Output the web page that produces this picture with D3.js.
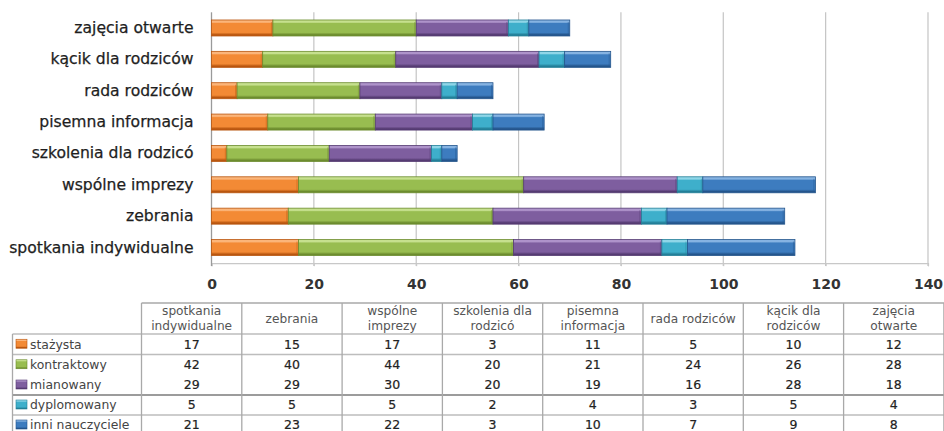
<!DOCTYPE html>
<html>
<head>
<meta charset="utf-8">
<script src="https://cdn.jsdelivr.net/npm/d3@7"></script>
<style>
  html, body { margin: 0; padding: 0; background: #fff; }
  svg { display: block; font-family: "DejaVu Sans", "Liberation Sans", sans-serif; }
</style>
</head>
<body>
<svg id="chart" width="944" height="431"></svg>
<script>
// Forms of cooperation with parents, by teacher grade
const categories = [
  "spotkania indywidualne", "zebrania", "wspólne imprezy", "szkolenia dla rodzicó",
  "pisemna informacja", "rada rodziców", "kącik dla rodziców", "zajęcia otwarte"
];
const headerLines = [
  ["spotkania", "indywidualne"], ["zebrania"], ["wspólne", "imprezy"], ["szkolenia dla", "rodzicó"],
  ["pisemna", "informacja"], ["rada rodziców"], ["kącik dla", "rodziców"], ["zajęcia", "otwarte"]
];
const seriesNames = ["stażysta", "kontraktowy", "mianowany", "dyplomowany", "inni nauczyciele"];
const stazysta    = [17, 15, 17, 3, 11, 5, 10, 12];
const kontraktowy = [42, 40, 44, 20, 21, 24, 26, 28];
const mianowany   = [29, 29, 30, 20, 19, 16, 28, 18];
const dyplomowany = [5, 5, 5, 2, 4, 3, 5, 4];
const inni        = [21, 23, 22, 3, 10, 7, 9, 8];
const xTicks = [0, 20, 40, 60, 80, 100, 120, 140];

const seriesValues = [stazysta, kontraktowy, mianowany, dyplomowany, inni];
const palette = [
  { base: "#F38A35", light: "#FBB57A", dark: "#B9560F" },
  { base: "#98BD50", light: "#C6E08E", dark: "#6C8C2E" },
  { base: "#7E5E9F", light: "#AE93CA", dark: "#553B72" },
  { base: "#3EAFCB", light: "#8FD6E8", dark: "#237F98" },
  { base: "#3D7CBF", light: "#86B3E2", dark: "#24558C" }
];

const svg = d3.select("#chart");
const defs = svg.append("defs");

// Bevel-like vertical gradients for each series
palette.forEach((c, i) => {
  const g = defs.append("linearGradient")
    .attr("id", "grad" + i).attr("x1", 0).attr("y1", 0).attr("x2", 0).attr("y2", 1);
  g.append("stop").attr("offset", "0%").attr("stop-color", c.light);
  g.append("stop").attr("offset", "14%").attr("stop-color", c.light);
  g.append("stop").attr("offset", "22%").attr("stop-color", c.base);
  g.append("stop").attr("offset", "78%").attr("stop-color", c.base);
  g.append("stop").attr("offset", "92%").attr("stop-color", c.dark);
  g.append("stop").attr("offset", "100%").attr("stop-color", c.dark);
});

// Scales
const x = d3.scaleLinear().domain([0, 140]).range([211.5, 928]);
const y = d3.scaleBand()
  .domain(categories.slice().reverse())
  .range([12.3, 263.2])
  .paddingInner(0.49)
  .paddingOuter(0.245);

// Gridlines
const plot = svg.append("g");
plot.append("g").selectAll("line").data(xTicks.slice(1)).join("line")
  .attr("x1", d => x(d)).attr("x2", d => x(d))
  .attr("y1", 12.3).attr("y2", 266)
  .attr("stroke", "#c4c4c4").attr("stroke-width", 1.2);

// Bottom axis with tick labels
const xAxis = d3.axisBottom(x).tickValues(xTicks).tickSize(3).tickPadding(13);
const xg = plot.append("g").attr("transform", "translate(0,263.2)").call(xAxis);
xg.select(".domain").attr("stroke", "#c8c8c8").attr("stroke-width", 1.2);
xg.selectAll(".tick line").attr("stroke", "#c8c8c8");
xg.selectAll("text")
  .attr("font-family", "DejaVu Sans, sans-serif")
  .attr("font-size", 14).attr("font-weight", "bold").attr("fill", "#333");

// Left axis with category labels
const yAxis = d3.axisLeft(y).tickSize(0).tickPadding(18);
const yg = plot.append("g").attr("transform", "translate(211.5,0)").call(yAxis);
yg.select(".domain").attr("stroke", "#9a9a9a").attr("stroke-width", 1.3)
  .attr("d", "M0,12.3V266");
yg.selectAll("text")
  .attr("font-family", "DejaVu Sans, sans-serif")
  .attr("font-size", 15.6).attr("fill", "#1e1e1e")
  .attr("stroke", "#1e1e1e").attr("stroke-width", 0.25);

// Stacked bars
const stackRows = categories.map((c, i) => {
  const row = { category: c };
  seriesNames.forEach((s, k) => { row[s] = seriesValues[k][i]; });
  return row;
});
const stacked = d3.stack().keys(seriesNames)(stackRows);

const barsG = plot.append("g");
stacked.forEach((layer, k) => {
  const g = barsG.append("g");
  g.selectAll("rect.seg").data(layer).join("rect")
    .attr("class", "seg")
    .attr("x", d => x(d[0]))
    .attr("y", d => y(d.data.category))
    .attr("width", d => x(d[1]) - x(d[0]))
    .attr("height", y.bandwidth())
    .attr("fill", "url(#grad" + k + ")")
    .attr("stroke", palette[k].dark)
    .attr("stroke-width", 0.8);
  // bevelled end edges
  g.selectAll("line.edge").data(layer).join("line")
    .attr("class", "edge")
    .attr("x1", d => x(d[1]) - 1.5).attr("x2", d => x(d[1]) - 1.5)
    .attr("y1", d => y(d.data.category) + 2)
    .attr("y2", d => y(d.data.category) + y.bandwidth() - 2)
    .attr("stroke", palette[k].dark).attr("stroke-opacity", 0.45).attr("stroke-width", 1);
});

// Data table
const colX0 = 141.5, colW = 100.3;
const headTop = 303, headBottom = 334;
const rowBounds = [334, 354.5, 375, 395, 415, 435];
const table = svg.append("g");
const lineColor = "#a9a9a9";

// horizontal rules
table.append("line").attr("x1", colX0).attr("x2", 944).attr("y1", headTop).attr("y2", headTop)
  .attr("stroke", lineColor).attr("stroke-width", 1.6);
[0, 1, 3, 4].forEach(i => {
  table.append("line").attr("x1", 12.5).attr("x2", 944)
    .attr("y1", rowBounds[i]).attr("y2", rowBounds[i])
    .attr("stroke", i === 3 ? "#9c9c9c" : "#bdbdbd").attr("stroke-width", i === 3 ? 2 : 1.3);
});
// vertical rules
table.append("line").attr("x1", 12.5).attr("x2", 12.5).attr("y1", headBottom).attr("y2", 431)
  .attr("stroke", lineColor).attr("stroke-width", 1.3);
d3.range(9).forEach(i => {
  table.append("line").attr("x1", colX0 + i * colW).attr("x2", colX0 + i * colW)
    .attr("y1", headTop).attr("y2", 431)
    .attr("stroke", lineColor).attr("stroke-width", 1.3);
});

// header labels
headerLines.forEach((lines, i) => {
  const cx = colX0 + (i + 0.5) * colW;
  const t = table.append("text").attr("x", cx).attr("text-anchor", "middle")
    .attr("font-size", 12.2).attr("fill", "#555");
  if (lines.length === 1) {
    t.append("tspan").attr("x", cx).attr("y", 323).text(lines[0]);
  } else {
    t.append("tspan").attr("x", cx).attr("y", 315).text(lines[0]);
    t.append("tspan").attr("x", cx).attr("y", 330).text(lines[1]);
  }
});

// legend keys, series names and values
seriesNames.forEach((s, k) => {
  const cy = (rowBounds[k] + rowBounds[k + 1]) / 2;
  table.append("rect").attr("x", 16).attr("y", cy - 5).attr("width", 11).attr("height", 9)
    .attr("fill", "url(#grad" + k + ")").attr("stroke", palette[k].dark).attr("stroke-width", 0.6);
  table.append("text").attr("x", 30).attr("y", cy).attr("dy", "0.35em")
    .attr("font-size", 12.4).attr("fill", "#444").text(s);
  table.append("g").selectAll("text").data(seriesValues[k]).join("text")
    .attr("x", (d, i) => colX0 + (i + 0.5) * colW)
    .attr("y", cy).attr("dy", "0.35em")
    .attr("text-anchor", "middle")
    .attr("font-size", 12.5).attr("fill", "#222")
    .attr("stroke", "#222").attr("stroke-width", 0.2)
    .text(d => d);
});
</script>
</body>
</html>
